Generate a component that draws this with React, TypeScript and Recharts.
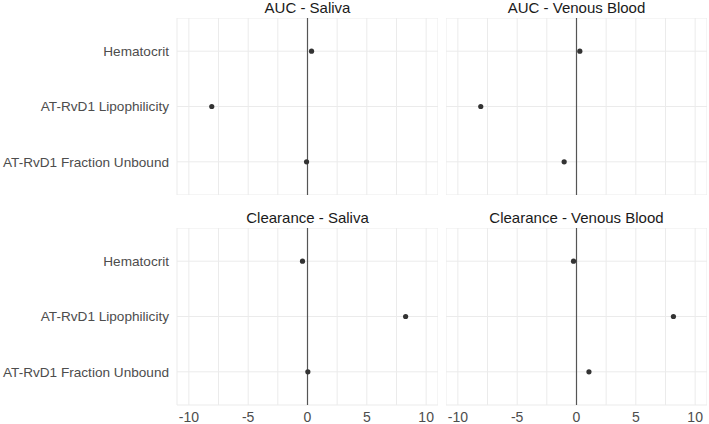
import React from 'react';
import { ScatterChart, Scatter, XAxis, YAxis, CartesianGrid, ReferenceLine } from 'recharts';

// categories from bottom to top (y = 1, 2, 3)
const categories = ['AT-RvD1 Fraction Unbound', 'AT-RvD1 Lipophilicity', 'Hematocrit'];

const aucSaliva = [-0.08, -8.07, 0.34];
const aucVenous = [-1.04, -8.07, 0.28];
const clearanceSaliva = [0.03, 8.27, -0.42];
const clearanceVenous = [1.05, 8.17, -0.25];

const xTicks = [-10, -7.5, -5, -2.5, 0, 2.5, 5, 7.5, 10];
const font = '"Liberation Sans", Arial, sans-serif';

const toPoints = (values: number[]) =>
  values.map((v, i) => ({ x: v, y: i + 1, name: categories[i] }));

const Dot = (props: any) => <circle cx={props.cx} cy={props.cy} r={2.6} fill="#333333" />;

// plain tick so long labels are not wrapped
const CategoryTick = (props: any) => {
  const { x, y, payload } = props;
  return (
    <text x={x} y={y} dy="0.36em" textAnchor="end" fill="#4d4d4d" fontSize={13.6} fontFamily={font}>
      {categories[payload.value - 1]}
    </text>
  );
};

interface PanelProps {
  title: string;
  values: number[];
  left: number;
  top: number;
  showY: boolean;
  showX: boolean;
}

const Panel: React.FC<PanelProps> = ({ title, values, left, top, showY, showX }) => {
  const yWidth = showY ? 177 : 0;
  const plotW = 261;
  const plotH = 177;
  const xHeight = showX ? 18 : 0;
  const width = yWidth + plotW;
  return (
    <div style={{ position: 'absolute', left, top, width, height: plotH + xHeight + 18 }}>
      <div
        style={{
          position: 'absolute',
          left: yWidth,
          width: plotW,
          top: 0,
          textAlign: 'center',
          fontFamily: font,
          fontSize: 15,
          color: '#1a1a1a',
          lineHeight: '16px',
          whiteSpace: 'nowrap',
        }}
      >
        {title}
      </div>
      <div style={{ position: 'absolute', left: 0, top: 18 }}>
        <ScatterChart width={width} height={plotH + xHeight} margin={{ top: 0, right: 0, bottom: 0, left: 0 }}>
          <CartesianGrid stroke="#ebebeb" strokeWidth={1} />
          <XAxis
            type="number"
            dataKey="x"
            domain={[-11, 11]}
            ticks={xTicks}
            interval={0}
            hide={!showX}
            height={xHeight}
            axisLine={false}
            tickLine={false}
            tickMargin={1}
            tickFormatter={(v: number) => (v % 5 === 0 ? String(v) : '')}
            tick={{ fill: '#4d4d4d', fontSize: 14, fontFamily: font }}
          />
          <YAxis
            type="number"
            dataKey="y"
            domain={[0.4, 3.6]}
            ticks={[1, 2, 3]}
            interval={0}
            hide={!showY}
            width={yWidth}
            axisLine={false}
            tickLine={false}
            tick={<CategoryTick />}
          />
          <ReferenceLine x={0} stroke="#555555" strokeWidth={1.2} />
          <Scatter data={toPoints(values)} shape={Dot} isAnimationActive={false} />
        </ScatterChart>
      </div>
    </div>
  );
};

const App: React.FC = () => {
  return (
    <div style={{ position: 'absolute', left: 0, top: 0, width: 709, height: 424, background: '#ffffff' }}>
      <Panel title="AUC - Saliva" values={aucSaliva} left={0} top={0} showY showX={false} />
      <Panel title="AUC - Venous Blood" values={aucVenous} left={446} top={0} showY={false} showX={false} />
      <Panel title="Clearance - Saliva" values={clearanceSaliva} left={0} top={210} showY showX />
      <Panel title="Clearance - Venous Blood" values={clearanceVenous} left={446} top={210} showY={false} showX />
    </div>
  );
};

export default App;
